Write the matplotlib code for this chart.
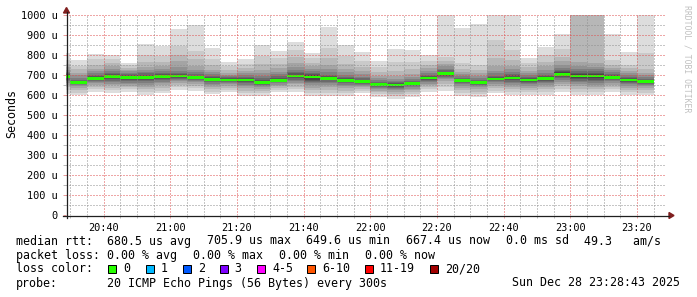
import matplotlib
matplotlib.use('Agg')
import matplotlib.pyplot as plt
import matplotlib.dates as mdates
from matplotlib.ticker import MultipleLocator
from matplotlib.patches import Rectangle, Polygon
from matplotlib.lines import Line2D
import numpy as np
import pandas as pd

W, H = 697, 297
MONO = 'DejaVu Sans Mono'

# one smokeping round every 5 minutes, 20 sorted ping times per round (us)
bar_start = pd.date_range('2025-12-28 20:25', periods=36, freq='5min')
view_start = pd.Timestamp('2025-12-28 20:28:43')
view_end = pd.Timestamp('2025-12-28 23:28:43')

pings = [
    [605, 625, 640, 652, 662, 670, 677, 683, 688, 691, 694, 698, 703, 709, 716, 725, 738, 755, 775, 812],
    [600, 612, 625, 636, 644, 650, 655, 659, 661, 662, 664, 667, 671, 677, 686, 698, 712, 728, 745, 775],
    [617, 628, 640, 650, 658, 664, 669, 674, 678, 681, 685, 689, 694, 700, 708, 718, 732, 750, 780, 805],
    [612, 625, 637, 648, 657, 665, 672, 678, 684, 689, 694, 699, 705, 712, 720, 730, 744, 760, 778, 800],
    [617, 628, 638, 647, 655, 662, 668, 673, 678, 684, 690, 695, 700, 706, 712, 718, 726, 736, 748, 758],
    [600, 615, 630, 642, 652, 661, 668, 675, 681, 686, 690, 695, 701, 708, 716, 727, 742, 765, 800, 855],
    [608, 622, 636, 648, 658, 666, 673, 679, 685, 690, 694, 699, 705, 712, 720, 730, 745, 765, 795, 847],
    [625, 638, 650, 660, 668, 675, 681, 686, 690, 693, 697, 701, 706, 712, 722, 740, 768, 800, 845, 930],
    [622, 634, 645, 655, 663, 670, 676, 680, 684, 686, 688, 692, 697, 704, 713, 726, 745, 780, 820, 950],
    [603, 616, 628, 639, 648, 656, 663, 668, 673, 676, 680, 684, 689, 695, 703, 713, 727, 748, 780, 837],
    [617, 627, 637, 646, 653, 659, 664, 668, 671, 674, 676, 679, 683, 688, 694, 702, 712, 726, 745, 767],
    [597, 610, 622, 633, 643, 651, 658, 664, 669, 673, 677, 681, 686, 692, 699, 708, 720, 735, 755, 778],
    [597, 608, 619, 629, 638, 645, 651, 656, 659, 662, 665, 669, 675, 683, 694, 708, 727, 755, 795, 850],
    [617, 627, 637, 645, 652, 658, 663, 667, 670, 672, 675, 679, 685, 693, 703, 716, 733, 755, 785, 820],
    [617, 630, 642, 653, 662, 670, 677, 683, 688, 693, 697, 702, 708, 716, 727, 742, 762, 790, 825, 867],
    [597, 610, 624, 637, 648, 658, 666, 672, 677, 683, 695, 700, 705, 712, 720, 730, 744, 762, 783, 808],
    [597, 612, 626, 639, 650, 659, 667, 673, 678, 681, 684, 688, 694, 702, 713, 728, 750, 785, 835, 942],
    [597, 610, 622, 633, 643, 651, 658, 664, 668, 671, 675, 679, 685, 692, 701, 713, 730, 755, 795, 850],
    [608, 619, 629, 638, 646, 652, 657, 661, 664, 666, 668, 671, 676, 683, 692, 704, 720, 742, 772, 817],
    [592, 603, 613, 622, 630, 637, 642, 646, 648, 650, 653, 656, 660, 665, 673, 683, 697, 715, 738, 770],
    [582, 595, 607, 617, 625, 632, 637, 641, 644, 647, 651, 654, 658, 663, 670, 680, 695, 718, 765, 830],
    [592, 603, 614, 624, 632, 639, 645, 650, 654, 657, 659, 662, 666, 672, 680, 691, 706, 728, 765, 825],
    [617, 628, 639, 649, 657, 664, 670, 675, 679, 683, 687, 691, 696, 702, 710, 720, 733, 750, 772, 800],
    [622, 640, 655, 668, 678, 686, 692, 697, 701, 704, 707, 711, 716, 723, 732, 743, 756, 770, 790, 1040],
    [597, 611, 624, 636, 646, 654, 660, 665, 669, 671, 673, 676, 680, 686, 694, 704, 716, 732, 760, 933],
    [592, 605, 617, 628, 638, 646, 652, 657, 660, 662, 664, 667, 671, 677, 685, 695, 708, 725, 752, 955],
    [608, 622, 635, 646, 655, 663, 669, 674, 677, 679, 681, 684, 689, 697, 708, 722, 745, 785, 875, 1050],
    [600, 615, 629, 641, 651, 660, 667, 673, 678, 682, 687, 692, 698, 706, 716, 728, 745, 775, 825, 1080],
    [600, 613, 626, 637, 646, 653, 659, 664, 668, 672, 677, 681, 686, 692, 699, 708, 720, 738, 758, 783],
    [600, 614, 628, 640, 650, 659, 666, 672, 677, 681, 685, 689, 695, 702, 712, 725, 743, 767, 800, 842],
    [617, 631, 644, 656, 666, 675, 683, 690, 696, 702, 708, 713, 719, 727, 737, 750, 768, 792, 830, 905],
    [600, 615, 630, 643, 654, 663, 671, 678, 686, 694, 700, 706, 712, 720, 730, 745, 765, 1100, 1150, 1200],
    [600, 614, 628, 641, 652, 661, 669, 676, 683, 690, 698, 704, 710, 718, 728, 742, 760, 1080, 1130, 1180],
    [617, 630, 642, 652, 661, 668, 674, 679, 683, 686, 690, 694, 699, 705, 713, 723, 736, 752, 775, 905],
    [600, 613, 626, 637, 647, 655, 661, 666, 670, 673, 677, 681, 686, 692, 700, 710, 722, 735, 748, 817],
    [600, 612, 624, 634, 643, 650, 656, 661, 664, 666, 668, 671, 675, 681, 689, 699, 712, 730, 812, 1060],
]

medians = [692, 663, 683, 692, 688, 688, 692, 695, 687, 678, 675, 675, 663, 673, 695, 690, 682, 673,
           667, 652, 649.6, 658, 685, 705.9, 672, 662, 680, 685, 675, 683, 704, 695, 695, 688, 675, 667.4]

y_ticks = [0, 100, 200, 300, 400, 500, 600, 700, 800, 900, 1000]
y_labels = ['0', '100 u', '200 u', '300 u', '400 u', '500 u', '600 u', '700 u', '800 u', '900 u', '1000 u']

loss_labels = ['0', '1', '2', '3', '4-5', '6-10', '11-19', '20/20']
loss_colors = ['#26ff00', '#00b8ff', '#0059ff', '#7e00ff', '#ff00ff', '#ff5500', '#ff0000', '#a10000']


def px(x, y):
    return x / W, 1 - y / H


fig = plt.figure(figsize=(W / 100, H / 100), dpi=100)
fig.patch.set_facecolor('white')
ax = fig.add_axes([66 / W, 1 - 215 / H, 600 / W, 200 / H])

x = mdates.date2num(bar_start.to_pydatetime())
width = 5 / 1440
P = np.array(pings, dtype=float)

# smoke: band i runs from ping i to ping 21-i, darker towards the middle
for k in range(10):
    g = int(190 / 10 * (10 - (k + 1))) + 50
    ax.bar(x, P[:, 19 - k] - P[:, k], bottom=P[:, k], width=width, align='edge',
           color='#%02x%02x%02x' % (g, g, g), linewidth=0, antialiased=False)

# median with loss colour (0 loss -> green)
ax.bar(x, 14, bottom=np.array(medians) - 7, width=width, align='edge',
       color=loss_colors[0], linewidth=0, antialiased=False)

ax.set_xlim(mdates.date2num(view_start), mdates.date2num(view_end))
ax.set_ylim(0, 1000)

ax.xaxis.set_major_locator(mdates.MinuteLocator(byminute=[0, 20, 40]))
ax.xaxis.set_minor_locator(mdates.MinuteLocator(byminute=range(0, 60, 5)))
ax.xaxis.set_major_formatter(mdates.DateFormatter('%H:%M'))
ax.set_yticks(y_ticks)
ax.set_yticklabels(y_labels)
ax.yaxis.set_minor_locator(MultipleLocator(50))

mgrid = (0.87, 0.31, 0.31, 0.55)
grid = (0.56, 0.56, 0.56, 0.6)
ax.set_axisbelow(False)
ax.grid(which='major', color=mgrid, lw=0.72, ls=(0, (1, 2)))
ax.grid(which='minor', color=grid, lw=0.72, ls=(0, (1, 2)))

ax.tick_params(which='major', length=2, width=0.72, color=mgrid, pad=4,
               labelsize=7.4, labelfontfamily=MONO)
ax.tick_params(which='minor', length=2, width=0.72, color=grid)
for s in ax.spines.values():
    s.set_visible(False)

# axes with arrows
axis_c = (0.12, 0.12, 0.12)
arrow_c = (0.5, 0.12, 0.12)
fig.add_artist(Line2D(*zip(px(63, 215.5), px(669, 215.5)), color=axis_c, lw=0.9))
fig.add_artist(Line2D(*zip(px(66.5, 218), px(66.5, 12)), color=axis_c, lw=0.9))
fig.add_artist(Polygon([px(669, 212.5), px(674, 215.5), px(669, 218.5)], closed=True,
                       color=arrow_c, transform=fig.transFigure))
fig.add_artist(Polygon([px(63.5, 13), px(66.5, 7.5), px(69.5, 13)], closed=True,
                       color=arrow_c, transform=fig.transFigure))

fig.text(*px(12, 114), 'Seconds', rotation=90, ha='center', va='center',
         fontsize=8.4, family=MONO)
fig.text(*px(687.5, 59), 'RRDTOOL / TOBI OETIKER', rotation=270, ha='center', va='center',
         fontsize=5.9, family=MONO, color='#c0c0c0')

fs = 8.4
line1 = [(16, 'median rtt:  680.5 us avg'), (206.7, '705.9 us max'), (306.4, '649.6 us min'),
         (406.1, '667.4 us now'), (505.8, '0.0 ms sd'), (584.5, '49.3   am/s')]
for xp, t in line1:
    fig.text(*px(xp, 241), t, ha='left', va='center', fontsize=fs, family=MONO)

line2 = [(16, 'packet loss: 0.00 % avg'), (193.3, '0.00 % max'), (279.3, '0.00 % min'),
         (365.3, '0.00 % now')]
for xp, t in line2:
    fig.text(*px(xp, 255.5), t, ha='left', va='center', fontsize=fs, family=MONO)

fig.text(*px(16, 269), 'loss color:', ha='left', va='center', fontsize=fs, family=MONO)
box_x = [108.3, 145.7, 182.7, 219.7, 257, 307.3, 365, 430]
for bx, lab, c in zip(box_x, loss_labels, loss_colors):
    fig.add_artist(Rectangle(px(bx, 273), 8 / W, 8 / H, transform=fig.transFigure,
                             facecolor=c, edgecolor='black', linewidth=0.72))
    fig.text(*px(bx + 15, 269), lab, ha='left', va='center', fontsize=fs, family=MONO)

fig.text(*px(16, 283), 'probe:', ha='left', va='center', fontsize=fs, family=MONO)
fig.text(*px(107.3, 283), '20 ICMP Echo Pings (56 Bytes) every 300s', ha='left', va='center',
         fontsize=fs, family=MONO)
fig.text(*px(680, 283), 'Sun Dec 28 23:28:43 2025', ha='right', va='center',
         fontsize=fs, family=MONO)

fig.savefig('out.png', dpi=100)
